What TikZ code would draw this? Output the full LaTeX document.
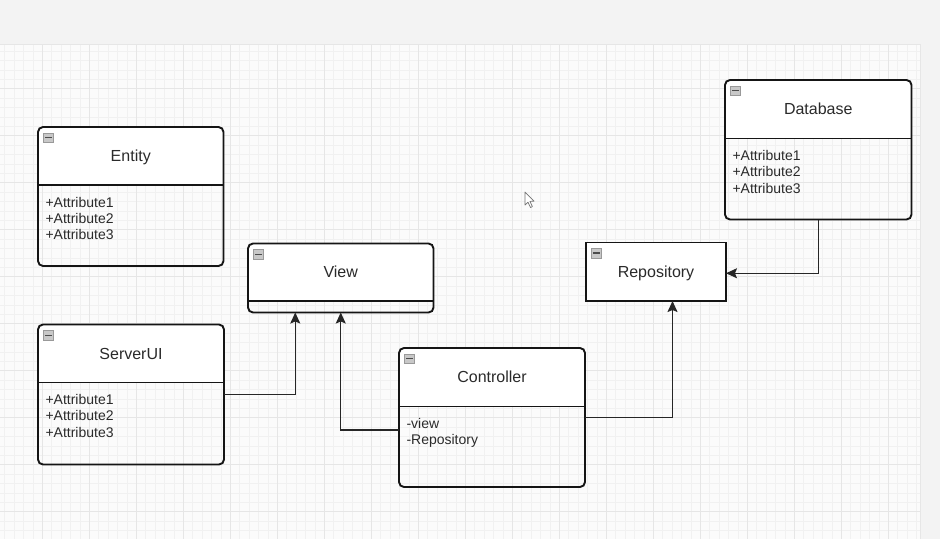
\documentclass[tikz,border=0pt]{standalone}
\usepackage{fontspec}
\setmainfont{Liberation Sans}
\usetikzlibrary{arrows.meta}
\definecolor{outside}{HTML}{F3F3F3}
\definecolor{canvasbg}{HTML}{FBFBFB}
\definecolor{gridminor}{HTML}{F1F1F1}
\definecolor{gridmajor}{HTML}{E6E6E6}
\definecolor{ink}{HTML}{151515}
\definecolor{txt}{HTML}{2A2A2A}
\definecolor{iconfill}{HTML}{C8C8C8}
\definecolor{iconline}{HTML}{999999}

\tikzset{
  classbox/.style={draw=ink, line width=1.9pt, rounded corners=5pt, inner sep=0pt, outer sep=0pt},
  plainbox/.style={draw=ink, line width=1.9pt, fill=white, inner sep=0pt, outer sep=0pt},
  classline/.style={draw=ink, line width=1.9pt},
  titletext/.style={font=\fontsize{16}{19}\selectfont, text=txt, inner sep=0pt},
  attrtext/.style={font=\fontsize{14}{16}\selectfont, text=txt, inner sep=0pt},
  iconbox/.style={draw=iconline, fill=iconfill, line width=0.6pt},
  icondash/.style={draw=black!70, line width=1.3pt},
  conn/.style={draw=black!85, line width=1.3pt, -{Stealth[length=11pt,width=10pt,inset=2pt]}},
  minorgrid/.style={draw=gridminor, line width=0.6pt},
  majorgrid/.style={draw=gridmajor, line width=0.8pt}
}

% name, x, y, w, h, header height, title
\newcommand\umlclassbox[7]{%
  \fill[white, rounded corners=5pt] (#2,#3) rectangle ({#2+#4},{#3+#6});
  \fill[white] (#2,{#3+#6-8}) rectangle ({#2+#4},{#3+#6});
  \node[classbox, minimum width=#4pt, minimum height=#5pt, anchor=north west] (#1) at (#2,#3) {};
  \draw[classline] ([yshift=-#6pt]#1.north west) -- ([yshift=-#6pt]#1.north east);
  \draw[iconbox] ({#2+5.3},{#3+6}) rectangle ({#2+15.6},{#3+15.6});
  \draw[icondash] ({#2+7.3},{#3+10.8}) -- ({#2+13.6},{#3+10.8});
  \node[titletext, anchor=base] (#1-t) at ({#2+#4/2},{#3+#6/2+5.7}) {#7};
}
% name, x, y of divider, list
\newcommand\umlattrlist[4]{%
  \foreach \a [count=\k] in {#4} {
    \node[attrtext, anchor=base west] (#1-a\k) at ({#2+7.3},{#3+22+16.4*(\k-1)}) {\a};
  }
}

\begin{document}
\begin{tikzpicture}[x=1pt, y=-1pt]
\useasboundingbox (0,0) rectangle (940,539);
\fill[outside] (0,0) rectangle (940,539);
\fill[canvasbg] (0,44.5) rectangle (920,539);
\begin{scope}
  \clip (0,44.5) rectangle (920,539);
  \foreach \i in {-5,...,93} {
    \draw[minorgrid] ({42.3+9.4*\i},44) -- ({42.3+9.4*\i},539);
  }
  \foreach \i in {-1,...,53} {
    \draw[minorgrid] (0,{41.7+9.4*\i}) -- (920,{41.7+9.4*\i});
  }
  \foreach \i in {-1,...,19} {
    \draw[majorgrid] ({42.3+47*\i},44) -- ({42.3+47*\i},539);
  }
  \foreach \i in {0,...,11} {
    \draw[majorgrid] (0,{41.7+47*\i}) -- (920,{41.7+47*\i});
  }
\end{scope}
\draw[draw=gridmajor, line width=0.8pt] (0,44.5) -- (920,44.5) -- (920,539);

% classes
\umlclassbox{entity}{38}{127}{185.5}{139}{58}{Entity}
\umlattrlist{entity}{38}{185}{+Attribute1,+Attribute2,+Attribute3}

\umlclassbox{serverui}{38}{324.5}{186}{140}{58}{ServerUI}
\umlattrlist{serverui}{38}{382.5}{+Attribute1,+Attribute2,+Attribute3}

\umlclassbox{view}{248}{243.5}{185.5}{69}{57.5}{View}

\umlclassbox{controller}{399}{348}{186}{139}{58.5}{Controller}
\umlattrlist{controller}{399}{406.5}{-view,-Repository}

\umlclassbox{database}{725}{80}{186.5}{139.5}{58.5}{Database}
\umlattrlist{database}{725}{138.5}{+Attribute1,+Attribute2,+Attribute3}

\node[plainbox, minimum width=140pt, minimum height=58.5pt, anchor=north west] (repository) at (586,242.5) {};
\draw[iconbox] (591.3,248.3) rectangle (601.6,257.9);
\draw[icondash] (593.3,253.1) -- (599.6,253.1);
\node[titletext, anchor=base] (repository-t) at (656,277.5) {Repository};

% connectors
\draw[conn] (serverui.east) -| ([xshift=-45.5pt]view.south);
\draw[conn] ([yshift=-12.5pt]controller.west) -| (view.south);
\draw[conn] (controller.east) -| ([xshift=16.5pt]repository.south);
\draw[conn] (database.south) |- ([yshift=-1.5pt]repository.east);

% mouse pointer
\draw[fill=white, draw=black!55, line width=0.7pt, line join=round]
  (525,192) -- (525,205) -- (528,202.2) -- (530.5,207.5) -- (532.4,206.6) -- (529.9,201.4) -- (534,201.2) -- cycle;
\end{tikzpicture}
\end{document}
